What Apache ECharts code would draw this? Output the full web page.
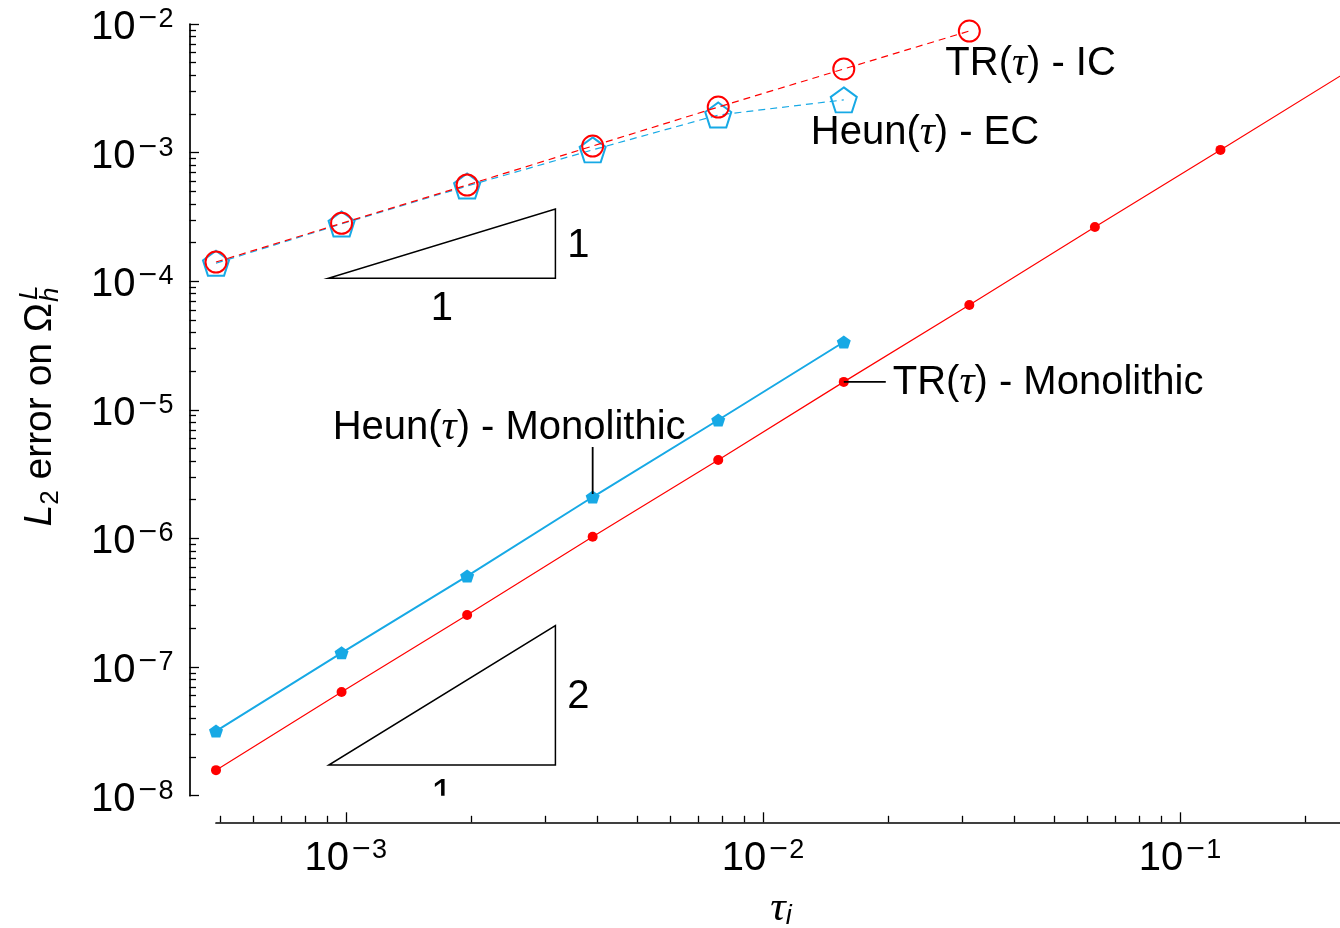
<!DOCTYPE html>
<html>
<head>
<meta charset="utf-8">
<script src="https://cdn.jsdelivr.net/npm/echarts@6/dist/echarts.min.js"></script>
<style>
  html, body { margin: 0; padding: 0; background: #ffffff; }
  #chart { width: 1340px; height: 928px; }
</style>
</head>
<body>
<div id="chart"></div>
<script>
// Time step sizes tau_i = 2^-11 ... 2^-2
const tau = [4.8828125e-4, 9.765625e-4, 1.953125e-3, 3.90625e-3, 7.8125e-3, 1.5625e-2, 3.125e-2, 6.25e-2, 0.125, 0.25];

// L2 errors on Omega_h^L for each scheme
const errTRMonolithic   = [1.58e-8, 6.4e-8, 2.54e-7, 1.03e-6, 4.07e-6, 1.65e-5, 6.54e-5, 2.64e-4, 1.05e-3, 4.2e-3];
const errHeunMonolithic = [3.18e-8, 1.29e-7, 5.1e-7, 2.1e-6, 8.34e-6, 3.37e-5];
const errTRIC           = [1.41e-4, 2.82e-4, 5.6e-4, 1.125e-3, 2.26e-3, 4.47e-3, 8.82e-3];
const errHeunEC         = [1.38e-4, 2.79e-4, 5.5e-4, 1.05e-3, 1.96e-3, 2.57e-3];

// Axis ranges and decade ticks
const xRange = [4.8828125e-4, 0.25];
const yRange = [1e-8, 1e-2];
const xMajorTicks = [1e-3, 1e-2, 1e-1];
const yMajorTicks = [1e-8, 1e-7, 1e-6, 1e-5, 1e-4, 1e-3, 1e-2];

// Slope indicators (corners in data units) and their side labels
const slopeTriangles = [
  { left: 9.08e-4, right: 3.18e-3, bottom: 1.055e-4, top: 3.65e-4, run: '1', rise: '1' },
  { left: 9.1e-4,  right: 3.18e-3, bottom: 1.73e-8,  top: 2.1e-7,  run: '1', rise: '2' }
];

const SANS = 'Liberation Sans';
const SERIF = 'Liberation Serif';
const RED = '#ff0000';
const BLUE = '#17a9e5';
const FS = 40;
const FS_SMALL = 27;
const PENTAGON = 'path://M0,-1L0.9511,-0.309L0.5878,0.809L-0.5878,0.809L-0.9511,-0.309Z';

// Curve annotations, anchored on a data point, with optional leader line (pixel offsets)
const curveLabels = [
  { name: 'TR', scheme: 'IC',           anchor: [tau[6], errTRIC[6]],              dx: -24,  dy: 42,  leader: null },
  { name: 'Heun', scheme: 'EC',         anchor: [tau[5], errHeunEC[5]],            dx: -33,  dy: 42,  leader: null },
  { name: 'TR', scheme: 'Monolithic',   anchor: [tau[5], errTRMonolithic[5]],      dx: 49,   dy: 10,  leader: [[0, 0], [42, 0]] },
  { name: 'Heun', scheme: 'Monolithic', anchor: [tau[3], errHeunMonolithic[3]],    dx: -260, dy: -60, leader: [[0, -50], [0, -3]] }
];

function minorTicks(lo, hi) {
  const out = [];
  for (let e = Math.floor(Math.log10(lo)); e <= Math.ceil(Math.log10(hi)); e++) {
    for (let k = 2; k <= 9; k++) {
      const v = k * Math.pow(10, e);
      if (v >= lo * 0.999 && v <= hi * 1.001) out.push(v);
    }
  }
  return out;
}
const xMinorTicks = minorTicks(xRange[0], xRange[1]);
const yMinorTicks = minorTicks(yRange[0], yRange[1]);

const pairs = (xs, ys) => ys.map((y, i) => [xs[i], y]);

const powLabelRich = {
  a: { fontFamily: SANS, fontSize: FS, lineHeight: 44, color: '#000' },
  m: { fontFamily: 'DejaVu Sans', fontSize: 25, lineHeight: 26, verticalAlign: 'top', color: '#000', padding: [0, 0, 0, 2] },
  b: { fontFamily: SANS, fontSize: FS_SMALL, lineHeight: 26, verticalAlign: 'top', color: '#000' }
};
function powLabel(v) {
  const e = Math.round(Math.log10(v));
  return '{a|10}' + (e < 0 ? '{m|\u2212}' : '') + '{b|' + Math.abs(e) + '}';
}

const labelRich = {
  n: { fontFamily: SANS, fontSize: FS, lineHeight: 40, color: '#000' },
  t: { fontFamily: SERIF, fontStyle: 'italic', fontSize: FS + 2, lineHeight: 40, color: '#000' }
};

const AXIS_X_OFFSET = 26.6;
const AXIS_Y_OFFSET = 26.5;

function xAxisCfg(major) {
  return {
    type: 'log', logBase: 10, min: xRange[0], max: xRange[1],
    position: 'bottom', offset: AXIS_X_OFFSET,
    axisLine: { show: major, lineStyle: { color: '#000', width: 1.7 } },
    axisTick: { show: true, inside: true, length: major ? 10 : 6.5, customValues: major ? xMajorTicks : xMinorTicks,
                lineStyle: { color: '#000', width: 1.3 } },
    axisLabel: major ? { show: true, margin: 15, customValues: xMajorTicks, formatter: powLabel, rich: powLabelRich }
                     : { show: false },
    splitLine: { show: false }, minorTick: { show: false }, minorSplitLine: { show: false },
    name: major ? '{t|\u03c4}{s|i}' : '',
    nameLocation: 'middle', nameGap: 64,
    nameTextStyle: {
      rich: {
        t: { fontFamily: SERIF, fontStyle: 'italic', fontSize: 43, lineHeight: 44, color: '#000' },
        s: { fontFamily: SANS, fontStyle: 'italic', fontSize: FS_SMALL, lineHeight: 26, verticalAlign: 'bottom', color: '#000' }
      }
    }
  };
}
function yAxisCfg(major) {
  return {
    type: 'log', logBase: 10, min: yRange[0], max: yRange[1],
    position: 'left', offset: AXIS_Y_OFFSET,
    axisLine: { show: major, lineStyle: { color: '#000', width: 1.7 } },
    axisTick: { show: true, inside: true, length: major ? 9.5 : 6.5, customValues: major ? yMajorTicks : yMinorTicks,
                lineStyle: { color: '#000', width: 1.3 } },
    axisLabel: major ? { show: true, margin: 16, padding: [8, 0, 0, 0], customValues: yMajorTicks, formatter: powLabel, rich: powLabelRich }
                     : { show: false },
    splitLine: { show: false }, minorTick: { show: false }, minorSplitLine: { show: false }
  };
}

const chart = echarts.init(document.getElementById('chart'), null, { renderer: 'canvas' });

chart.setOption({
  animation: false,
  backgroundColor: '#ffffff',
  grid: { left: 216, top: 24, width: 1130, height: 771.7, containLabel: false, outerBoundsMode: 'none' },
  xAxis: [xAxisCfg(true), xAxisCfg(false)],
  yAxis: [yAxisCfg(true), yAxisCfg(false)],
  graphic: [{
    // y-axis title: L_2 error on Omega_h^L, reading bottom to top
    type: 'group', x: 40, y: 303, rotation: Math.PI / 2, silent: true,
    children: [
      { type: 'text', x: 0, y: 0, style: {
          text: '{i|L}{s|2}{n| error on \u03a9}', align: 'right', verticalAlign: 'middle',
          rich: {
            i: { fontFamily: SANS, fontStyle: 'italic', fontSize: 39, lineHeight: 48, fill: '#000' },
            s: { fontFamily: SANS, fontSize: 26, lineHeight: 26, verticalAlign: 'bottom', fill: '#000' },
            n: { fontFamily: SANS, fontSize: 39, lineHeight: 48, fill: '#000' }
          } } },
      { type: 'text', x: 1, y: 11, style: { text: 'h', font: 'italic 26px "Liberation Sans"', fill: '#000', align: 'left', verticalAlign: 'middle' } },
      { type: 'text', x: 3, y: -10, style: { text: 'L', font: 'italic 26px "Liberation Sans"', fill: '#000', align: 'left', verticalAlign: 'middle' } }
    ]
  }],
  series: [
    {
      type: 'line', name: 'Heun(\u03c4) - EC', data: pairs(tau, errHeunEC),
      symbol: PENTAGON, symbolSize: [26, 25], silent: true, z: 2,
      itemStyle: { color: 'rgba(0,0,0,0)', borderColor: BLUE, borderWidth: 2 },
      lineStyle: { color: BLUE, width: 1.2, type: [7, 5] }
    },
    {
      type: 'line', name: 'TR(\u03c4) - IC', data: pairs(tau, errTRIC),
      symbol: 'circle', symbolSize: 21, silent: true, z: 3,
      itemStyle: { color: 'rgba(0,0,0,0)', borderColor: RED, borderWidth: 2 },
      lineStyle: { color: RED, width: 1.2, type: [7, 5] }
    },
    {
      type: 'line', name: 'Heun(\u03c4) - Monolithic', data: pairs(tau, errHeunMonolithic),
      symbol: PENTAGON, symbolSize: [14, 13], silent: true, z: 4,
      itemStyle: { color: BLUE },
      lineStyle: { color: BLUE, width: 2 }
    },
    {
      type: 'line', name: 'TR(\u03c4) - Monolithic', data: pairs(tau, errTRMonolithic),
      symbol: 'circle', symbolSize: 10, silent: true, z: 4,
      itemStyle: { color: RED },
      lineStyle: { color: RED, width: 1.2 }
    },
    {
      // slope indicator triangles with their run/rise labels
      type: 'custom', clip: true, silent: true, z: 5,
      encode: { x: 0, y: 1 },
      data: slopeTriangles.map(t => [t.left, t.bottom]),
      renderItem(params, api) {
        const t = slopeTriangles[params.dataIndex];
        const p0 = api.coord([t.left, t.bottom]);
        const p1 = api.coord([t.right, t.bottom]);
        const p2 = api.coord([t.right, t.top]);
        return {
          type: 'group',
          children: [
            { type: 'polygon', shape: { points: [p0, p1, p2] },
              style: { fill: 'none', stroke: '#000', lineWidth: 1.5 } },
            { type: 'text', style: { text: t.run, x: (p0[0] + p1[0]) / 2, y: p0[1] + 31,
                align: 'center', verticalAlign: 'middle', font: FS + 'px "Liberation Sans"', fill: '#000' } },
            { type: 'text', style: { text: t.rise, x: p1[0] + 23, y: (p1[1] + p2[1]) / 2 + 2,
                align: 'center', verticalAlign: 'middle', font: FS + 'px "Liberation Sans"', fill: '#000' } }
          ]
        };
      }
    },
    {
      // curve names with leader lines
      type: 'custom', clip: true, silent: true, z: 6,
      encode: { x: 0, y: 1 },
      data: curveLabels.map(c => c.anchor),
      renderItem(params, api) {
        const c = curveLabels[params.dataIndex];
        const p = api.coord(c.anchor);
        const children = [];
        if (c.leader) {
          children.push({ type: 'line',
            shape: { x1: p[0] + c.leader[0][0], y1: p[1] + c.leader[0][1], x2: p[0] + c.leader[1][0], y2: p[1] + c.leader[1][1] },
            style: { stroke: '#000', lineWidth: 1.8 } });
        }
        children.push({ type: 'text', style: {
          text: '{n|' + c.name + '(}{t|\u03c4}{n|) - ' + c.scheme + '}',
          x: p[0] + c.dx, y: p[1] + c.dy - 9, align: 'left', verticalAlign: 'middle', rich: labelRich } });
        return { type: 'group', children };
      }
    }
  ]
});
</script>
</body>
</html>
